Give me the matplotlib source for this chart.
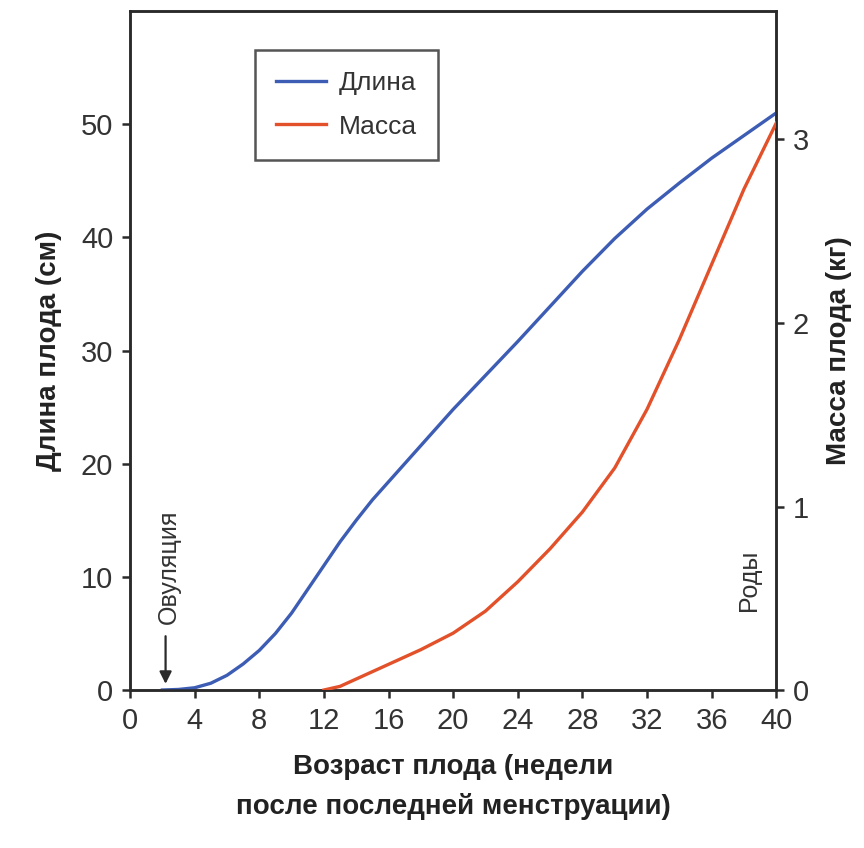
import matplotlib
matplotlib.use("Agg")
import matplotlib.pyplot as plt

plt.rcParams['font.family'] = ['Liberation Sans Narrow', 'Liberation Sans', 'DejaVu Sans']

# недели после последней менструации
weeks_len = [2, 3, 4, 5, 6, 7, 8, 9, 10, 11, 12, 13, 14, 15, 16, 18, 20, 22, 24, 26, 28, 30, 32, 34, 36, 38, 40]
length_cm = [0, 0.05, 0.2, 0.6, 1.3, 2.3, 3.5, 5.0, 6.8, 8.9, 11.0, 13.1, 15.0, 16.8, 18.4, 21.6, 24.8,
             27.8, 30.8, 33.9, 37.0, 39.9, 42.5, 44.8, 47.0, 49.0, 51.0]

weeks_mass = [12, 13, 14, 16, 18, 20, 22, 24, 26, 28, 30, 32, 34, 36, 38, 40]
mass_kg = [0, 0.02, 0.06, 0.14, 0.22, 0.31, 0.43, 0.59, 0.77, 0.97, 1.21, 1.53, 1.91, 2.32, 2.73, 3.09]

x_ticks = list(range(0, 41, 4))
len_ticks = [0, 10, 20, 30, 40, 50]
mass_ticks = [0, 1, 2, 3]

blue = "#3d5db4"
red = "#e2512a"
dark = "#2a2a2a"

fig = plt.figure(figsize=(8.64, 8.48), dpi=100)
ax = fig.add_axes([0.1505, 0.1863, 0.748, 0.8007])
ax2 = ax.twinx()

l1, = ax.plot(weeks_len, length_cm, color=blue, lw=2.4, label="Длина", zorder=3,
              solid_joinstyle="round")
l2, = ax2.plot(weeks_mass, mass_kg, color=red, lw=2.4, label="Масса", zorder=3,
               solid_joinstyle="round")

ax.set_xlim(0, 40)
ax.set_ylim(0, 60)
ax2.set_ylim(0, 3.70)
ax.set_xticks(x_ticks)
ax.set_yticks(len_ticks)
ax2.set_yticks(mass_ticks)

for a in (ax, ax2):
    for s in a.spines.values():
        s.set_linewidth(1.8)
        s.set_color(dark)
    a.tick_params(direction="out", length=6, width=1.8, color=dark,
                  labelsize=21, labelcolor="#333333", pad=6)

ax.set_xlabel("Возраст плода (недели\nпосле последней менструации)",
              fontsize=20, fontweight="bold", color="#222222", labelpad=14, linespacing=1.6,
              family=['Liberation Sans', 'DejaVu Sans'])
ax.set_ylabel("Длина плода (см)", fontsize=20, fontweight="bold", color="#222222", labelpad=14,
              family=['Liberation Sans', 'DejaVu Sans'])
ax2.set_ylabel("Масса плода (кг)", fontsize=20, fontweight="bold", color="#222222", labelpad=12,
               rotation=90, family=['Liberation Sans', 'DejaVu Sans'])

# овуляция и роды
ax.annotate("", xy=(2.2, 0.3), xytext=(2.2, 5.0),
            arrowprops=dict(arrowstyle="-|>", color=dark, lw=1.6, mutation_scale=18))
ax.text(2.4, 5.8, "Овуляция", rotation=90, ha="center", va="bottom", fontsize=18, color="#333333")
ax.text(38.3, 7.0, "Роды", rotation=90, ha="center", va="bottom", fontsize=18, color="#333333")

leg = ax.legend(handles=[l1, l2], loc="upper left", bbox_to_anchor=(0.193, 0.943),
                borderaxespad=0, fontsize=19, frameon=True, fancybox=False, edgecolor=dark,
                handlelength=1.9, borderpad=0.8, labelspacing=0.75, handletextpad=0.5)
leg.get_frame().set_linewidth(1.8)
for t in leg.get_texts():
    t.set_color("#333333")

fig.savefig("out.png", dpi=100)
